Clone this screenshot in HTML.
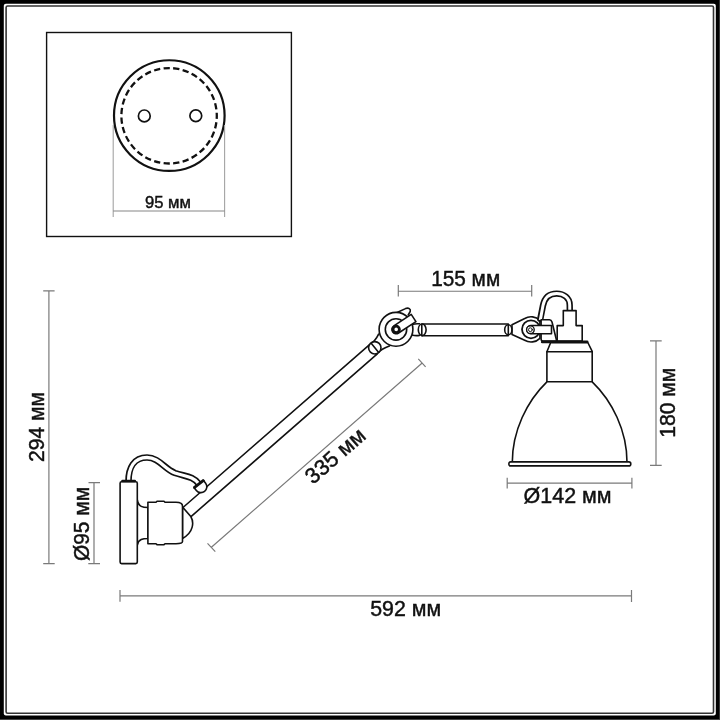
<!DOCTYPE html>
<html><head><meta charset="utf-8">
<style>
html,body{margin:0;padding:0;background:#000;}
svg{display:block;will-change:transform;}
text{font-family:"Liberation Sans",sans-serif;fill:#111;stroke:#111;stroke-width:0.45px;}
</style></head>
<body>
<svg width="720" height="720" viewBox="0 0 720 720">
<!-- frame -->
<rect x="0" y="0" width="720" height="720" fill="#000"/>
<rect x="719" y="0" width="1" height="720" fill="#333"/>
<rect x="0" y="719" width="720" height="1" fill="#444"/>
<rect x="3.8" y="3.8" width="712" height="711.8" rx="2" fill="#fff"/>
<rect x="6.1" y="6.05" width="707.4" height="707.25" rx="1.5" fill="#fff" stroke="#333" stroke-width="1.6"/>

<!-- top box -->
<rect x="46.6" y="32.5" width="244.8" height="204" fill="none" stroke="#111" stroke-width="1.4"/>
<g fill="none" stroke="#111">
  <circle cx="169.3" cy="115.55" r="55.3" stroke-width="2.2"/>
  <circle cx="169.1" cy="115.8" r="47.7" stroke-width="2.3" pathLength="310" stroke-dasharray="6.5 3.5" stroke-dashoffset="3.25"/>
  <circle cx="144.3" cy="115.9" r="5.9" stroke-width="1.7"/>
  <circle cx="195.8" cy="115.8" r="5.9" stroke-width="1.7"/>
</g>
<g stroke="#8a8a8a" stroke-width="1.1" fill="none">
  <path d="M113.2,125 V217 M224.6,125 V217" stroke="#a4a4a4"/><path d="M113.2,211 H224.6" stroke="#858585"/>
</g>
<text x="168" y="207.9" font-size="17" text-anchor="middle" textLength="46" lengthAdjust="spacingAndGlyphs">95 мм</text>

<!-- dimension lines -->
<g stroke="#7a7a7a" stroke-width="1.2" fill="none">
  <path d="M48.9,290.8 V563.7 M43.2,290.8 H54.6 M43.2,563.7 H54.7"/>
  <path d="M94,482.7 V563.6 M88.5,482.7 H100 M88.3,563.6 H100"/>
  <path d="M120,595.8 H631.5 M120,590 V601.7 M631.5,590 V602"/>
  <path d="M398.3,291.25 H531.7 M398.3,285 V296.5 M531.7,285 V296.5"/>
  <path d="M656,340.8 V465.4 M650,340.8 H661.7 M650,465.4 H661.7"/>
  <path d="M507.2,483.2 H631.9 M507.2,477.8 V488.5 M631.9,477.8 V488.5"/>
  <path d="M211.4,547.2 L421.9,363.3 M207.5,543.3 L215.3,551.6 M418.3,358.9 L425.6,366.9"/>
</g>
<g font-size="22">
  <text transform="translate(44,427) rotate(-90)" text-anchor="middle" textLength="70" lengthAdjust="spacingAndGlyphs">294 мм</text>
  <text transform="translate(89.1,524) rotate(-90)" text-anchor="middle" textLength="74" lengthAdjust="spacingAndGlyphs">Ø95 мм</text>
  <text transform="translate(675.2,402.8) rotate(-90)" text-anchor="middle" textLength="70" lengthAdjust="spacingAndGlyphs">180 мм</text>
  <text x="405.7" y="615.7" text-anchor="middle" textLength="71" lengthAdjust="spacingAndGlyphs">592 мм</text>
  <text x="465.7" y="286" text-anchor="middle" textLength="69" lengthAdjust="spacingAndGlyphs">155 мм</text>
  <text x="567.6" y="502.8" text-anchor="middle" textLength="88" lengthAdjust="spacingAndGlyphs">Ø142 мм</text>
  <text transform="translate(211.4,547.2) rotate(-41.14) translate(153.5,20)" text-anchor="middle" textLength="72" lengthAdjust="spacingAndGlyphs">335 мм</text>
</g>

<!-- LAMP -->
<g fill="#fff" stroke="#111" stroke-width="1.6" stroke-linejoin="round" stroke-linecap="round">
  <!-- long arm -->
  <path d="M183,507.5 L369,345.1 L377,354.2 L191,516.6 Z" fill="#fff" stroke="none"/>
  <path d="M183,507.5 L369,345.1 M191,516.6 L377,354.2" fill="none"/>
  <!-- cable wall -->
  <path d="M128.5,481 C128.5,468 134,457.5 147,457.5 C159,457.5 164.5,469 175,473 C185,476.5 193,476 199,484" fill="none" stroke-width="6.6"/>
  <path d="M128.5,482 C128.5,468 134,457.5 147,457.5 C159,457.5 164.5,469 175,473 C185,476.5 193,476 199,484" fill="none" stroke="#fff" stroke-width="3.3" stroke-linecap="butt"/>
  <!-- cable cap -->
  <g transform="translate(201.3,487.2) rotate(-38)">
    <path d="M-5.9,-4.6 H5.9 V-0.5 A5.9,5.8 0 0 1 -5.9,-0.5 Z"/>
    <path d="M-5.9,-3.6 H5.9" fill="none" stroke-width="2.2"/>
  </g>
  <!-- wall plate -->
  <path d="M137.3,500 C138.5,507 143,507.5 148,507.5 L148,538.5 C143,538.5 138.5,539 137.3,545 Z"/>
  <rect x="120.1" y="481.7" width="17.2" height="81.9" rx="1.5"/>
  <path d="M122.5,481 H134.8" stroke-width="2.6"/>
  <!-- dome -->
  <path d="M182.5,507 L190.8,516.5 C194,522 194,532 182.5,538.5 Z"/>
  <!-- knuckle -->
  <path d="M147.9,502.3 H156 L157,501.3 H164 L165,502.3 H176 C180,502.3 182.5,503.5 182.5,506 V541.5 C182.5,543 180,543.75 176,543.75 H165 L164,544.7 H157 L156,543.75 H147.9 Z"/>

  <!-- upper joint -->
  <!-- neck of long arm -->
  <path d="M368.3,346.4 Q375.5,341 378.6,334.2 L389.4,346.1 Q382,348.5 376.1,354.4 Z" stroke="none"/>
  <path d="M368.3,346.4 Q375.5,341 378.6,334.2 M389.4,346.1 Q382,348.5 376.1,354.4" fill="none"/>
  <circle cx="374.8" cy="347.8" r="6.2"/>
  <path d="M371.4,343.6 L378.3,351.9" fill="none"/>
  <!-- horizontal arm -->
  <rect x="420" y="324.5" width="88" height="11" stroke="none"/>
  <path d="M422,324 H508.3 M422,335.8 H508.3" fill="none"/>
  <path d="M412.3,324.6 Q415.5,323.4 419.5,323.8 L419.5,335.4 Q415.5,336 412,335 Z" stroke="none"/>
  <path d="M412.3,324.6 Q415.5,323.4 419.5,323.8 M419.5,335.4 Q415.5,336 412,335" fill="none"/>
  <ellipse cx="422.2" cy="329.8" rx="3.9" ry="5.8"/>
  <path d="M421.8,324.2 V335.4" fill="none"/>
  <!-- ear -->
  <path d="M396.5,312.8 L405.5,308.6 C408.5,307.3 411,309 410.2,311.5 L408.2,315" />
  <circle cx="396" cy="329.3" r="16.9"/>
  <circle cx="396" cy="329.4" r="10.7"/>
  <!-- lever -->
  <g transform="translate(396.2,329.4) rotate(-33.3)">
    <path d="M0,-4.3 H20.8 V4.3 H0 A4.3,4.3 0 0 1 0,-4.3 Z"/>
  </g>
  <circle cx="396.2" cy="329.4" r="3.2" stroke-width="2.8"/>

  <!-- right joint -->
  <path d="M512,324.8 L524.7,318.49 A12.6,12.6 0 0 1 539.91,320.49 L539.91,338.31 A12.6,12.6 0 0 1 524.7,340.31 L512,334.6 Z"/>
  <ellipse cx="508.3" cy="329.8" rx="3.6" ry="5.1"/>
  <path d="M508.3,324.7 V334.9" fill="none"/>
  <circle cx="531" cy="329.3" r="9" stroke-width="1.8"/>
  <!-- arch cable -->
  <path d="M540.3,319 L543,305.5 C544.5,298 549,293.6 556.7,293.6 C564,293.6 569.7,298 569.7,305 L569.8,311.5" fill="none" stroke-width="6.4"/>
  <path d="M540.3,320 L543,305.5 C544.5,298 549,293.6 556.7,293.6 C564,293.6 569.7,298 569.7,305 L569.8,312" fill="none" stroke="#fff" stroke-width="3" stroke-linecap="butt"/>
  <!-- bracket -->
  <path d="M541.1,319.8 H549.5 C551,319.8 551.5,320.5 552,322 L556.7,341 H543 C542,341 541.1,340 541.1,339 Z"/>
  <!-- lever -->
  <path d="M531,325.5 H551.5 V333.75 H531 A4.125,4.125 0 0 1 531,325.5 Z"/>
  <circle cx="530.4" cy="329.7" r="3.8" stroke-width="1.4"/>
  <circle cx="530.4" cy="329.7" r="1.9" stroke-width="1"/>

  <!-- socket -->
  <path d="M557.2,341.1 V325.6 H563.3 V310.6 H576.1 V325.6 H582.2 V341.1 Z"/>
  <path d="M542.2,341.9 H587.2" stroke-width="2.6"/>
  <!-- shade neck -->
  <path d="M550.6,342.8 L546.9,351.8 V381.8 H592.2 V351.3 L587.8,342.5 Z"/>
  <path d="M546.9,351.8 H592" fill="none"/>
  <!-- bell -->
  <path d="M546.9,381.8 C527,401 512.3,431 512.3,462.3 H627 C627,431 612.3,401 592.2,381.8 Z"/>
  <rect x="508.8" y="461.9" width="122" height="4" rx="2"/>
</g>
</svg>
</body></html>
